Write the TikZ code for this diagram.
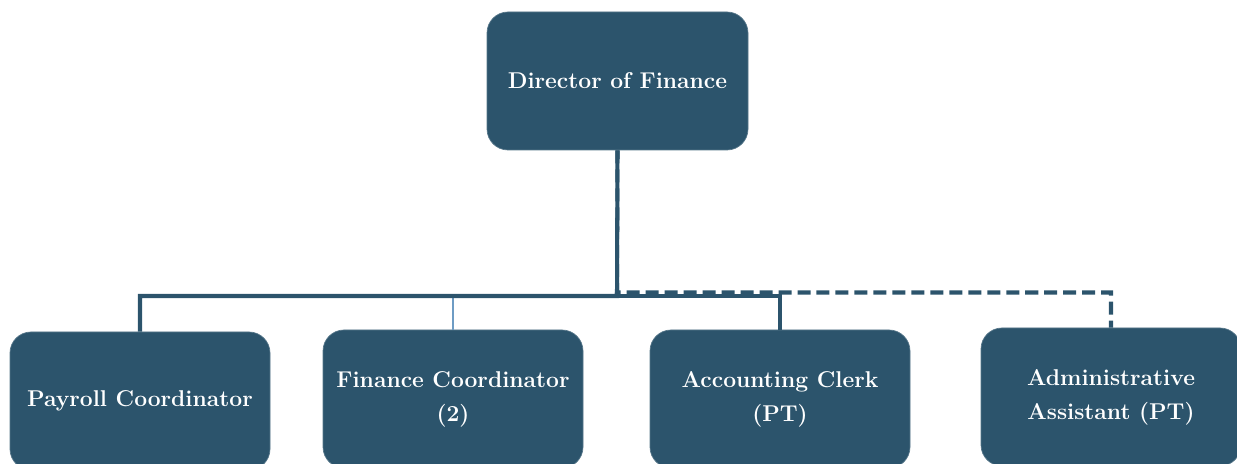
\documentclass[tikz,border=0pt]{standalone}
\usepackage{tikz}

\definecolor{boxblue}{HTML}{2C546C}
\definecolor{lineblue}{HTML}{2C546C}
\definecolor{paleblue}{HTML}{6E9CC4}

\begin{document}
\begin{tikzpicture}[every node/.style={rounded corners=0.42cm, fill=boxblue, draw=boxblue!80!white, thin,
    minimum width=5.2cm, minimum height=2.76cm, align=center, text=white,
    font=\bfseries\fontsize{13}{19.4}\selectfont},
  conn/.style={draw=lineblue, line width=2.3pt},
  paleconn/.style={draw=paleblue, line width=1.5pt},
  dashconn/.style={draw=lineblue, line width=2.3pt, dash pattern=on 7.4pt off 3.4pt}]
\useasboundingbox (0,0) rectangle (24.74,9.28);

\node (dir) at (12.35,7.66) [minimum width=5.22cm] {Director of Finance};

\node (payroll) at (2.8,1.26) {Payroll Coordinator};
\node (fincoord) at (9.06,1.30) {Finance Coordinator\\(2)};
\node (clerk) at (15.6,1.30) {Accounting Clerk\\(PT)};
\node (admin) at (22.22,1.34) {Administrative\\Assistant (PT)};

\coordinate (bus) at (12.34,3.36);
\coordinate (dbus) at (12.34,3.43);

\draw[paleconn] (bus) -| (fincoord.north);
\draw[conn] (dir.south) -- (bus) -| (payroll.north);
\draw[conn] (bus) -| (clerk.north);
\draw[dashconn] (dir.south) -- (dbus) -| (admin.north);
\end{tikzpicture}
\end{document}
